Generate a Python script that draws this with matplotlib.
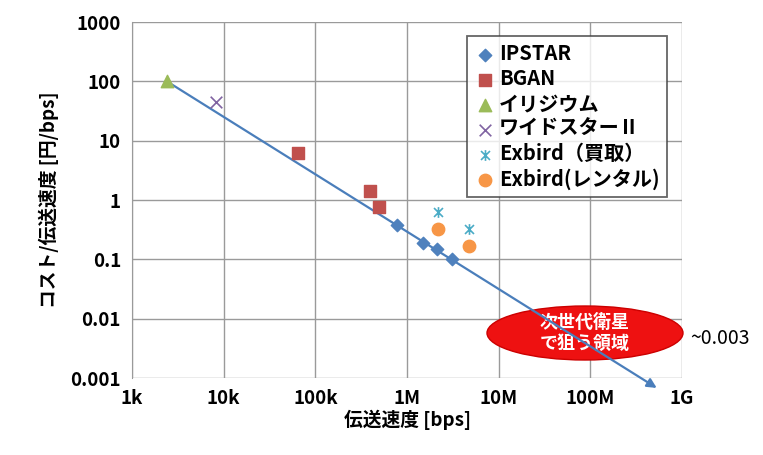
import matplotlib
matplotlib.use("Agg")
import matplotlib.pyplot as plt
from matplotlib.patches import Ellipse
from matplotlib.path import Path

plt.rcParams['font.family'] = ['Noto Sans CJK JP', 'DejaVu Sans']

# ---- data ----
ipstar_x = [7.8e5, 1.5e6, 2.1e6, 3.1e6]
ipstar_y = [0.38, 0.19, 0.15, 0.10]
bgan_x = [6.5e4, 3.9e5, 5.0e5]
bgan_y = [6.3, 1.4, 0.75]
iridium_x = [2.4e3]
iridium_y = [100]
widestar_x = [8.2e3]
widestar_y = [44]
exbuy_x = [2.2e6, 4.7e6]
exbuy_y = [0.63, 0.32]
exrent_x = [2.2e6, 4.7e6]
exrent_y = [0.33, 0.17]
trend_x = [2.4e3, 5.3e8]
trend_y = [100, 6.8e-4]

xticks = [1e3, 1e4, 1e5, 1e6, 1e7, 1e8, 1e9]
xticklabels = ['1k', '10k', '100k', '1M', '10M', '100M', '1G']
yticks = [1e-3, 1e-2, 1e-1, 1, 10, 100, 1000]
yticklabels = ['0.001', '0.01', '0.1', '1', '10', '100', '1000']

labels = ['IPSTAR', 'BGAN', 'イリジウム', 'ワイドスターⅡ', 'Exbird（買取）', 'Exbird(レンタル)']

# star marker: X with vertical line
star = Path([(-1, -1), (1, 1), (-1, 1), (1, -1), (0, -1.2), (0, 1.2)],
            [Path.MOVETO, Path.LINETO, Path.MOVETO, Path.LINETO, Path.MOVETO, Path.LINETO])

fig = plt.figure(figsize=(7.63, 4.55), dpi=100)
ax = fig.add_axes([132/763, 1-378/455, 550/763, 356/455])
ax.set_xscale('log')
ax.set_yscale('log')
ax.set_xlim(1e3, 1e9)
ax.set_ylim(1e-3, 1e3)

ax.grid(True, which='major', color='#9a9a9a', lw=1.0)
ax.minorticks_off()
for s in ['top', 'right', 'bottom']:
    ax.spines[s].set_visible(False)
ax.spines['left'].set_color('#9a9a9a')
ax.tick_params(length=0, pad=8)

ax.set_xticks(xticks)
ax.set_xticklabels(xticklabels, fontsize=13.5, fontweight='bold')
ax.set_yticks(yticks)
ax.set_yticklabels(yticklabels, fontsize=13.5, fontweight='bold')

h1 = ax.scatter(ipstar_x, ipstar_y, marker='D', s=40, color='#4f81bd', zorder=4, label=labels[0])
h2 = ax.scatter(bgan_x, bgan_y, marker='s', s=80, color='#c0504d', zorder=4, label=labels[1])
h3 = ax.scatter(iridium_x, iridium_y, marker='^', s=80, color='#9bbb59', zorder=4, label=labels[2])
h4 = ax.scatter(widestar_x, widestar_y, marker='x', s=70, color='#8064a2', linewidths=1.2, zorder=4, label=labels[3])
h5 = ax.scatter(exbuy_x, exbuy_y, marker=star, s=60, color='#4bacc6', linewidths=1.2, zorder=4, label=labels[4])
h6 = ax.scatter(exrent_x, exrent_y, marker='o', s=80, color='#f79646', zorder=4, label=labels[5])

leg = ax.legend(handles=[h1, h2, h3, h4, h5, h6], loc='upper left',
                bbox_to_anchor=((467-132)/550, (378-36)/356), borderaxespad=0,
                fontsize=14.5, frameon=True, fancybox=False, edgecolor='#404040',
                handletextpad=0.15, borderpad=0.35, labelspacing=0.2,
                handlelength=1.1, scatterpoints=1)
leg.get_frame().set_linewidth(1.3)
leg.set_zorder(6)
for t in leg.get_texts():
    t.set_fontweight('bold')

# target region ellipse
ell = Ellipse(((585-132)/550, (378-333)/356), 196/550, 54/356,
              transform=ax.transAxes, facecolor='#ee1111', edgecolor='#cc0000',
              lw=1, zorder=2, clip_on=False)
ax.add_patch(ell)
ax.text((585-132)/550, (378-333)/356, '次世代衛星\nで狙う領域', transform=ax.transAxes,
        ha='center', va='center', color='white', fontsize=13, fontweight='bold',
        linespacing=1.15, zorder=2.5)
ax.text((690-132)/550, (378-338)/356, '~0.003', transform=ax.transAxes,
        ha='left', va='center', fontsize=14, clip_on=False)

# trend arrow (drawn over the ellipse)
ax.annotate('', xy=(trend_x[1], trend_y[1]), xytext=(trend_x[0], trend_y[0]),
            xycoords='data', textcoords='data',
            arrowprops=dict(arrowstyle='-|>', color='#4a7ebb', lw=1.6,
                            mutation_scale=14, shrinkA=0, shrinkB=0),
            annotation_clip=False, zorder=3)

ax.set_xlabel('伝送速度 [bps]', fontsize=13.5, fontweight='bold', labelpad=1)
ax.set_ylabel('コスト/伝送速度 [円/bps]', fontsize=13.5, fontweight='bold', labelpad=8)

fig.savefig('out.png', dpi=100)
